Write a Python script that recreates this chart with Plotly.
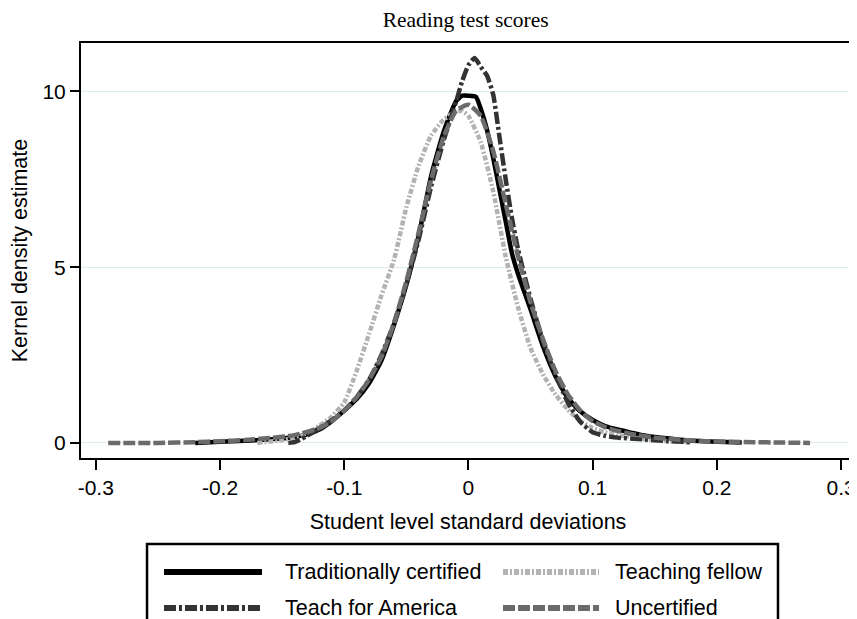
import plotly.graph_objects as go

# Traditionally certified (black solid)
tc_x = [-0.22, -0.20, -0.18, -0.16, -0.14, -0.13, -0.12, -0.11, -0.10, -0.09, -0.08, -0.07, -0.06, -0.05, -0.04, -0.03, -0.02, -0.01, -0.005,
        0.0, 0.006, 0.01, 0.015, 0.02, 0.025, 0.03, 0.035, 0.04, 0.05, 0.06, 0.07, 0.08, 0.09, 0.10, 0.11, 0.12, 0.13, 0.14, 0.15, 0.16, 0.17, 0.18, 0.20, 0.22]
tc_y = [0.0, 0.03, 0.06, 0.10, 0.17, 0.24, 0.38, 0.62, 0.92, 1.25, 1.7, 2.35, 3.35, 4.5, 5.9, 7.6, 8.85, 9.72, 9.88,
        9.88, 9.85, 9.5, 8.9, 8.1, 7.2, 6.3, 5.4, 4.8, 3.8, 2.75, 1.9, 1.28, 0.9, 0.65, 0.48, 0.38, 0.3, 0.22, 0.17, 0.13, 0.09, 0.06, 0.03, 0.01]

# Teaching fellow (light gray dotted)
tf_x = [-0.17, -0.15, -0.14, -0.13, -0.12, -0.11, -0.10, -0.09, -0.08, -0.07, -0.06, -0.05, -0.04, -0.03, -0.02, -0.01, -0.005,
        0.0, 0.01, 0.02, 0.03, 0.04, 0.05, 0.06, 0.07, 0.08, 0.09, 0.10, 0.11, 0.12, 0.14, 0.16, 0.18]
tf_y = [0.0, 0.08, 0.15, 0.28, 0.48, 0.75, 1.15, 2.05, 3.1, 4.2, 5.2, 6.7, 7.9, 8.75, 9.2, 9.42, 9.45,
        9.3, 8.55, 7.15, 5.3, 3.85, 2.7, 1.95, 1.38, 0.95, 0.62, 0.42, 0.3, 0.22, 0.12, 0.05, 0.01]

# Teach for America (dark dash-dot)
tfa_x = [-0.145, -0.14, -0.135, -0.13, -0.12, -0.11, -0.10, -0.09, -0.08, -0.07, -0.06, -0.05, -0.04, -0.03, -0.02, -0.01, -0.005,
         0.0, 0.005, 0.01, 0.015, 0.02, 0.025, 0.03, 0.035, 0.04, 0.05, 0.06, 0.07, 0.08, 0.09, 0.10, 0.11, 0.12, 0.14, 0.16, 0.18]
tfa_y = [0.0, 0.02, 0.1, 0.2, 0.42, 0.65, 0.92, 1.3, 1.8, 2.5, 3.4, 4.5, 5.8, 7.3, 8.6, 9.7, 10.3,
         10.75, 10.95, 10.7, 10.45, 9.9, 8.7, 7.5, 6.4, 5.5, 4.1, 2.9, 1.95, 1.15, 0.6, 0.3, 0.2, 0.15, 0.1, 0.05, 0.02]

# Uncertified (medium gray dashed)
un_x = [-0.29, -0.25, -0.22, -0.20, -0.18, -0.16, -0.14, -0.12, -0.11, -0.10, -0.09, -0.08, -0.07, -0.06, -0.05, -0.04, -0.03, -0.02, -0.01,
        0.0, 0.01, 0.02, 0.03, 0.04, 0.05, 0.06, 0.07, 0.08, 0.09, 0.10, 0.11, 0.12, 0.13, 0.14, 0.15, 0.17, 0.19, 0.21, 0.23, 0.25, 0.275]
un_y = [0.0, 0.0, 0.02, 0.05, 0.08, 0.14, 0.22, 0.42, 0.62, 0.92, 1.3, 1.8, 2.45, 3.4, 4.6, 6.0, 7.5, 8.7, 9.45,
        9.62, 9.3, 8.3, 6.8, 5.3, 4.0, 2.95, 2.05, 1.38, 0.92, 0.62, 0.45, 0.34, 0.26, 0.2, 0.15, 0.09, 0.05, 0.03, 0.02, 0.01, 0.0]

series_names = ["Traditionally certified", "Teaching fellow", "Teach for America", "Uncertified"]
x_ticks = [-0.3, -0.2, -0.1, 0, 0.1, 0.2, 0.3]
x_tick_labels = ["-0.3", "-0.2", "-0.1", "0", "0.1", "0.2", "0.3"]
y_ticks = [0, 5, 10]

styles = [
    dict(color="#000000", dash="solid"),
    dict(color="#b3b3b3", dash="5px,2px,2px,2px"),
    dict(color="#333333", dash="12px,3px,3px,3px"),
    dict(color="#6b6b6b", dash="12px,3px"),
]
data = [(tc_x, tc_y), (tf_x, tf_y), (tfa_x, tfa_y), (un_x, un_y)]

fig = go.Figure()
for (xs, ys), name, st in zip(data, series_names, styles):
    fig.add_trace(go.Scatter(x=xs, y=ys, mode="lines", name=name, showlegend=False,
                             line=dict(color=st["color"], width=4.5, dash=st["dash"],
                                       shape="spline", smoothing=0.5)))

FONT = "Liberation Sans, Arial, sans-serif"
fig.update_layout(
    width=849, height=611,
    paper_bgcolor="white", plot_bgcolor="white",
    margin=dict(l=73, r=2, t=35, b=161, autoexpand=False),
    font=dict(family=FONT, size=21, color="black"),
    title=dict(text="Reading test scores", x=0.497, xanchor="center", xref="paper",
               y=0.982, yanchor="middle", yref="container",
               font=dict(family="Liberation Serif, Times New Roman, serif", size=21.5, color="black")),
    xaxis=dict(range=[-0.3119, 0.3112], tickvals=x_ticks, ticktext=x_tick_labels,
               showgrid=False, zeroline=False, showline=True, linecolor="black", linewidth=2, mirror=True,
               ticks="outside", ticklen=10, tickwidth=2, tickcolor="black", ticklabelstandoff=0,
               title=dict(text="Student level standard deviations", standoff=16, font=dict(size=21.5)),
               tickfont=dict(size=21)),
    yaxis=dict(range=[-0.43, 11.38], tickvals=y_ticks,
               showgrid=True, gridcolor="#dcecec", gridwidth=1, zeroline=False,
               showline=True, linecolor="black", linewidth=2,
               ticks="outside", ticklen=9, tickwidth=2, tickcolor="black", ticklabelstandoff=0,
               title=dict(text="Kernel density estimate", standoff=12, font=dict(size=21.5)),
               tickfont=dict(size=21)),
    showlegend=False,
)

# right frame edge (gray)
fig.add_shape(type="line", xref="paper", yref="paper", x0=1, x1=1, y0=0, y1=1,
              line=dict(color="#999999", width=2))

# legend box drawn below the plot (paper coordinates)
fig.add_shape(type="rect", xref="paper", yref="paper", x0=0.0853, x1=0.9005, y0=-0.44, y1=-0.2072,
              line=dict(color="black", width=2.5), fillcolor="white", layer="above")
leg_rows = [-0.2747, -0.2747, -0.3614, -0.3614]
leg_sample_x = [(0.1072, 0.2339), (0.5452, 0.6693), (0.1072, 0.2339), (0.5452, 0.6693)]
leg_text_x = [0.2610, 0.6873, 0.2610, 0.6873]
for name, st, ly, (sx0, sx1), tx in zip(series_names, styles, leg_rows, leg_sample_x, leg_text_x):
    fig.add_shape(type="line", xref="paper", yref="paper", x0=sx0, x1=sx1, y0=ly, y1=ly,
                  line=dict(color=st["color"], width=6, dash=st["dash"]), layer="above")
    fig.add_annotation(text=name, xref="paper", yref="paper", x=tx, y=ly, xanchor="left", yanchor="middle",
                       showarrow=False, font=dict(family=FONT, size=21.5, color="black"))

fig.write_html("out.html")
